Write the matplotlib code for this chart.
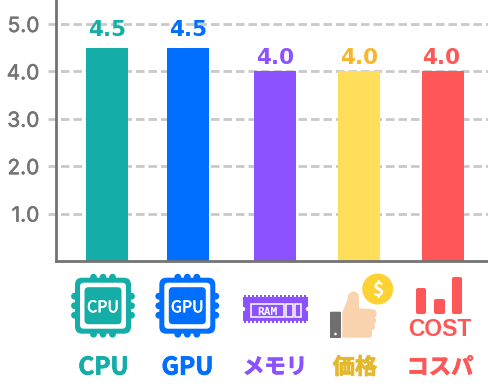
import matplotlib
matplotlib.use("Agg")
import matplotlib.pyplot as plt
import matplotlib.patheffects as pe
from matplotlib.patches import Circle, FancyBboxPatch, Polygon, Rectangle

plt.rcParams["font.family"] = ["Noto Sans CJK JP", "DejaVu Sans"]

CATEGORIES = ["CPU", "GPU", "メモリ", "価格", "コスパ"]
SCORES = [4.5, 4.5, 4.0, 4.0, 4.0]
Y_TICKS = [1.0, 2.0, 3.0, 4.0, 5.0]
BAR_COLORS = ["#15ADA7", "#006EFF", "#8C52FF", "#FFDE59", "#FF5757"]
VALUE_COLORS = ["#15ADA7", "#006EFF", "#8C52FF", "#F7B52C", "#FF5757"]
NAME_COLORS = ["#15ADA7", "#006EFF", "#8C52FF", "#E3B92B", "#FF5757"]

BAR_CENTERS = [107, 188, 275, 359, 443]
VALUE_CENTERS = [106.7, 188, 275, 358.7, 441]
LABEL_CENTERS = [103.5, 187.5, 275, 355, 440]
NAME_SIZES = [17.5, 17.5, 15.5, 16, 16]
BAR_WIDTH = 42
GREY = "#737373"
W, H = 488, 387


def rrect(ax, x0, y0, x1, y1, r, color, zorder=3):
    ax.add_patch(FancyBboxPatch((x0 + r, y0 + r), x1 - x0 - 2 * r, y1 - y0 - 2 * r,
                                boxstyle=f"round,pad={r},rounding_size={r}",
                                fc=color, ec="none", zorder=zorder))


def draw_chip(ax, cx, cy, color, label):
    for off in (-9.5, 0, 9.5):
        for px, py in ((cx + off, cy - 28.5), (cx + off, cy + 28.5), (cx - 28.5, cy + off), (cx + 28.5, cy + off)):
            ax.add_patch(Circle((px, py), 3.4, fc=color, ec="none", zorder=3))
    rrect(ax, cx - 28, cy - 28, cx + 28, cy + 28, 7, color, 4)
    rrect(ax, cx - 23, cy - 23, cx + 23, cy + 23, 4, "white", 5)
    rrect(ax, cx - 18.5, cy - 18.5, cx + 18.5, cy + 18.5, 4, color, 6)
    t = ax.text(cx, cy, label, color="white", fontsize=11.5, ha="center", va="center_baseline", zorder=7)
    t.set_path_effects([pe.withStroke(linewidth=0.4, foreground="white")])


def draw_ram(ax, color):
    ax.add_patch(Rectangle((243, 297), 65, 24, fc=color, ec="none", zorder=3))
    for x in range(244, 307, 4):
        ax.add_patch(Rectangle((x, 295), 2.2, 2.5, fc=color, ec="none", zorder=3))
        ax.add_patch(Rectangle((x, 320.5), 2.2, 2, fc=color, ec="none", zorder=3))
    # side notches
    for x in (243, 308):
        ax.add_patch(Circle((x, 309), 2.2, fc="white", ec="none", zorder=4))
    for x0, x1 in ((251, 284), (286, 292.5), (294.5, 301)):
        ax.add_patch(Rectangle((x0, 304), x1 - x0, 13, fc="none", ec="white", lw=1.1, zorder=5))
    ax.text(267.5, 310.7, "RAM", color="white", fontsize=8, fontweight="bold",
            family="DejaVu Sans Mono", ha="center", va="center_baseline", zorder=7)


def draw_price(ax):
    rrect(ax, 330, 311.7, 341, 338, 1, "#6F6F6F")
    ax.add_patch(Circle((335.5, 334), 1.3, fc="white", ec="none", zorder=4))
    skin = "#F9D2AE"
    ax.add_patch(Polygon([(344, 313), (348.5, 302), (350, 295), (353.7, 293), (357, 295), (357.5, 310),
                          (370, 310.5), (370, 336), (344, 336)],
                         closed=True, fc=skin, ec=skin, lw=2.5, joinstyle="round", zorder=3))
    for y0, y1, x1 in ((309.5, 318, 376.5), (317, 324, 376), (323, 330, 375), (329.5, 337, 372)):
        rrect(ax, 362, y0, x1, y1, 3, skin)
    ax.add_patch(Circle((377.7, 289), 15.5, fc="#FFD233", ec="none", zorder=4))
    ax.text(377.7, 289, "$", color="white", fontsize=14, fontweight="bold",
            ha="center", va="center_baseline", zorder=5)


def draw_cost(ax, color):
    rrect(ax, 416, 288, 426, 314, 2, color)
    rrect(ax, 434, 299, 445, 314, 2, color)
    rrect(ax, 452, 277, 462, 314, 2, color)
    ax.text(439.5, 326.7, "COST", color=color, family="Liberation Sans", fontsize=16.5, fontweight="bold",
            ha="center", va="center_baseline", zorder=3)


fig = plt.figure(figsize=(W / 100, H / 100), dpi=100)
ax = fig.add_axes([56 / W, (H - 261) / H, (W - 56) / W, 261 / H])
ax.set_xlim(56, W)
ax.set_ylim(0, 261 / 47.4)

ax.hlines(Y_TICKS, 48, W, colors="#C9C9C9", linewidth=2, linestyles=(0, (3.06, 1.44)), zorder=1, clip_on=False)
ax.bar(BAR_CENTERS, SCORES, width=BAR_WIDTH, color=BAR_COLORS, zorder=2)
for x, score, color in zip(VALUE_CENTERS, SCORES, VALUE_COLORS):
    # the 4.5 labels sit a little higher above their bars than the 4.0 ones
    gap = 0.24 if score > 4.2 else 0.15
    ax.text(x, score + gap, f"{score:.1f}", color=color, fontsize=15.5, fontweight="bold",
            ha="center", va="baseline", family="DejaVu Sans", zorder=3)

ax.set_xticks([])
ax.set_yticks(Y_TICKS, [f"{v:.1f}" for v in Y_TICKS])
ax.tick_params(axis="y", length=0, pad=12, labelsize=15, labelcolor=GREY)
for label in ax.get_yticklabels():
    label.set_family("Inter")
    label.set_path_effects([pe.withStroke(linewidth=0.4, foreground=GREY)])
for side in ("top", "right"):
    ax.spines[side].set_visible(False)
for side in ("left", "bottom"):
    ax.spines[side].set_color(GREY)
    ax.spines[side].set_linewidth(2)

# bottom strip: icons and category names, in pixel coordinates
strip = fig.add_axes([0, 0, 1, 1], facecolor="none")
strip.set_xlim(0, W)
strip.set_ylim(H, 0)
strip.axis("off")
draw_chip(strip, 103, 305.7, BAR_COLORS[0], "CPU")
draw_chip(strip, 187.3, 305.7, BAR_COLORS[1], "GPU")
draw_ram(strip, BAR_COLORS[2])
draw_price(strip)
draw_cost(strip, BAR_COLORS[4])
for x, name, color, size in zip(LABEL_CENTERS, CATEGORIES, NAME_COLORS, NAME_SIZES):
    t = strip.text(x, 365, name, color=color, fontsize=size, fontweight="bold", ha="center", va="center_baseline")
    t.set_path_effects([pe.withStroke(linewidth=0.6, foreground=color)])

fig.savefig("out.png", dpi=100)
